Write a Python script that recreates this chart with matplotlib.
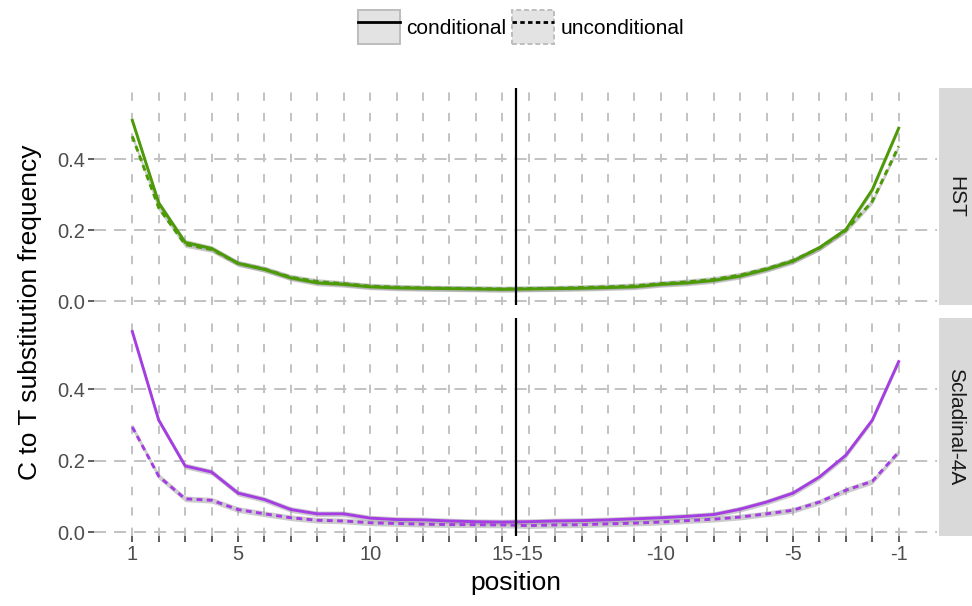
import matplotlib

matplotlib.use("Agg")
import matplotlib.pyplot as plt
from matplotlib.lines import Line2D
from matplotlib.patches import Patch, Rectangle

plt.rcParams["font.family"] = ["Liberation Sans", "DejaVu Sans"]

positions = list(range(1, 16)) + list(range(-15, 0))
labeled_positions = [1, 5, 10, 15, -15, -10, -5, -1]
samples = ["HST", "Scladinal-4A"]
sample_colors = {"HST": "#4C9A06", "Scladinal-4A": "#A43EE2"}

hst_conditional = [0.509, 0.277, 0.166, 0.149, 0.107, 0.090, 0.066, 0.052, 0.048, 0.041,
                   0.038, 0.037, 0.036, 0.035, 0.034, 0.035, 0.036, 0.037, 0.039, 0.041,
                   0.048, 0.052, 0.059, 0.071, 0.090, 0.113, 0.151, 0.202, 0.314, 0.487]
hst_unconditional = [0.464, 0.263, 0.160, 0.146, 0.107, 0.091, 0.068, 0.056, 0.050, 0.043,
                     0.040, 0.038, 0.037, 0.036, 0.035, 0.036, 0.037, 0.039, 0.041, 0.044,
                     0.050, 0.055, 0.062, 0.074, 0.092, 0.115, 0.150, 0.200, 0.281, 0.436]
scl_conditional = [0.562, 0.314, 0.186, 0.169, 0.110, 0.092, 0.064, 0.052, 0.052, 0.040,
                   0.036, 0.035, 0.032, 0.030, 0.029, 0.030, 0.032, 0.033, 0.035, 0.038,
                   0.041, 0.045, 0.050, 0.065, 0.085, 0.110, 0.155, 0.216, 0.314, 0.478]
scl_unconditional = [0.295, 0.157, 0.094, 0.090, 0.064, 0.052, 0.041, 0.034, 0.032, 0.027,
                     0.025, 0.023, 0.022, 0.0215, 0.021, 0.019, 0.021, 0.0215, 0.024, 0.026,
                     0.029, 0.033, 0.037, 0.043, 0.052, 0.062, 0.085, 0.118, 0.143, 0.225]

series = {
    "HST": (hst_conditional, hst_unconditional),
    "Scladinal-4A": (scl_conditional, scl_unconditional),
}

W, H = 972, 606
fig = plt.figure(figsize=(W / 100, H / 100), dpi=100)


def fx(px):
    return px / W


def fy(py):
    return 1 - py / H


left, right = 94, 937
panels = [(88, 305), (318, 536)]
xs = list(range(1, len(positions) + 1))
grid_kw = dict(color="#C2C2C2", linewidth=1.4)
band = 0.008

axes = []
for i, (sample, (top, bottom)) in enumerate(zip(samples, panels)):
    ax = fig.add_axes([fx(left), fy(bottom), fx(right - left), fy(top) - fy(bottom)])
    axes.append(ax)
    color = sample_colors[sample]
    cond, uncond = series[sample]

    for x in xs:
        ax.axvline(x, dashes=(4.3, 6.2), zorder=0, **grid_kw)
    for y in [0.0, 0.2, 0.4]:
        ax.axhline(y, dashes=(6.2, 4.1), zorder=0, **grid_kw)

    for vals, ls in [(uncond, (0, (2.0, 1.5))), (cond, "-")]:
        lo = [v - band for v in vals]
        hi = [v + band for v in vals]
        ax.fill_between(xs, lo, hi, color="#9A9A9A", alpha=0.5, linewidth=0, zorder=2)
        ax.plot(xs, vals, color=color, linewidth=2.1, linestyle=ls, zorder=3)

    ax.axvline(15.5, color="black", linewidth=1.6, zorder=4)

    ax.set_xlim(1 - 1.45, len(positions) + 1.45)
    ax.set_ylim(-0.01, 0.60)
    ax.set_yticks([0.0, 0.2, 0.4])
    ax.set_yticklabels(["0.0", "0.2", "0.4"])
    for s in ax.spines.values():
        s.set_visible(False)
    ax.tick_params(axis="y", length=4.5, width=1.1, color="#333333", labelsize=14.5,
                   labelcolor="#4D4D4D", pad=2)
    ax.set_xticks(xs)
    if i == len(samples) - 1:
        ax.set_xticklabels([str(p) if p in labeled_positions else "" for p in positions])
        ax.tick_params(axis="x", length=4.5, width=1.1, color="#333333", labelsize=14.5,
                       labelcolor="#4D4D4D", pad=2)
    else:
        ax.set_xticklabels([])
        ax.tick_params(axis="x", length=0)

    # facet strip
    strip = Rectangle((fx(939), fy(bottom)), fx(972 - 939), fy(top) - fy(bottom),
                      transform=fig.transFigure, facecolor="#D9D9D9", edgecolor="none")
    fig.add_artist(strip)
    fig.text(fx(956), (fy(top) + fy(bottom)) / 2, sample, rotation=-90, ha="center",
             va="center", fontsize=15, color="#1A1A1A")

fig.text(fx(30), (fy(88) + fy(536)) / 2, "C to T substitution frequency", rotation=90,
         ha="center", va="center", fontsize=19)
fig.text((fx(left) + fx(right)) / 2, fy(583), "position", ha="center", va="center", fontsize=19)

handles = [
    (Patch(facecolor="#E3E3E3", edgecolor="#BDBDBD", linewidth=1.4),
     Line2D([], [], color="black", linewidth=2.0)),
    (Patch(facecolor="#E3E3E3", edgecolor="#BDBDBD", linewidth=1.4, linestyle=(0, (2.5, 1.5))),
     Line2D([], [], color="black", linewidth=2.0, linestyle=(0, (1.6, 1.2)))),
]
fig.legend(handles, ["conditional", "unconditional"], loc="center", ncol=2,
           bbox_to_anchor=(fx(521), fy(27)), frameon=False, fontsize=15,
           handlelength=2.0, handleheight=2.2, handletextpad=0.3, columnspacing=0.3,
           borderpad=0)

fig.savefig("out.png", dpi=100)
